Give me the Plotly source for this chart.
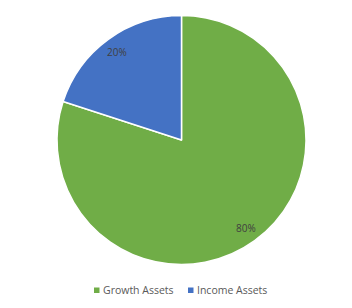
import math
import plotly.graph_objects as go

labels = ["Growth Assets", "Income Assets"]
values = [80, 20]
colors = ["#70AD47", "#4472C4"]

W, H = 352, 308
# pie box in pixels
x0, x1, y0, y1 = 57, 306, 15, 265

fig = go.Figure()
fig.add_trace(go.Pie(
    labels=labels, values=values, sort=False, direction="clockwise", rotation=0,
    marker=dict(colors=colors, line=dict(color="white", width=1.5)),
    textinfo="none", hoverinfo="label+percent", showlegend=False,
    domain=dict(x=[x0 / W, x1 / W], y=[1 - y1 / H, 1 - y0 / H]),
))

# data labels placed along each slice's mid-angle
cx, cy = (x0 + x1) / 2 / W, 1 - (y0 + y1) / 2 / H
r = (y1 - y0) / 2
total = sum(values)
cum = 0
annotations = []
for v in values:
    mid = (cum + v / 2) / total * 2 * math.pi
    cum += v
    rr = 0.875 * r
    ax = cx + rr * math.sin(mid) / W
    ay = cy + rr * math.cos(mid) / H
    annotations.append(dict(x=ax, y=ay, xref="paper", yref="paper", showarrow=False,
                            xanchor="center", yanchor="middle",
                            text=f"{round(v / total * 100)}%",
                            font=dict(family="Open Sans", size=10, color="#404040")))

# custom compact legend (marker squares + text)
legend_x = [94, 188]   # pixel left of each marker
legend_y = 290         # pixel centre line
shapes = []
for lab, col, lx in zip(labels, colors, legend_x):
    shapes.append(dict(type="rect", xref="paper", yref="paper",
                       x0=lx / W, x1=(lx + 5.5) / W,
                       y0=1 - (legend_y + 3) / H, y1=1 - (legend_y - 2.5) / H,
                       fillcolor=col, line=dict(width=0)))
    annotations.append(dict(x=(lx + 7) / W, y=1 - (legend_y - 0.5) / H, xref="paper", yref="paper",
                            showarrow=False, xanchor="left", yanchor="middle", text=lab,
                            font=dict(family="Open Sans", size=10.5, color="#595959")))

fig.update_layout(
    width=W, height=H, margin=dict(l=0, r=0, t=0, b=0),
    paper_bgcolor="white", plot_bgcolor="white",
    font=dict(family="Open Sans", size=11, color="#595959"),
    showlegend=False,
    annotations=annotations, shapes=shapes,
)
fig.write_html("out.html")
